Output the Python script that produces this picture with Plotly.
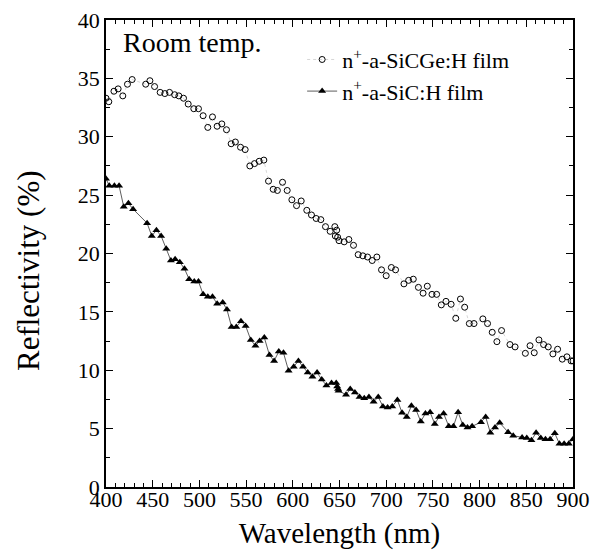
import plotly.graph_objects as go

# n+-a-SiCGe:H film (open circles)
wl_sicge = [400, 403, 408.5, 413, 418, 423, 428, 442.5, 447, 452, 458, 463, 468, 473.5, 478,
            483, 488, 494, 499, 504, 509, 514, 519, 524, 529, 534, 538.5, 544, 549, 554,
            559, 564, 569, 574, 579, 583.5, 589, 594, 599, 604, 609, 615, 620, 625, 630,
            635, 640, 645, 645.5, 647, 648, 649.5, 655, 660, 665, 670, 675, 680, 685, 690,
            695, 700, 705.5, 710, 719, 724, 729, 734.5, 739.5, 744, 749, 754, 759, 764,
            769.5, 774.5, 779.5, 784, 789, 794, 803.5, 808.5, 813.5, 818.5, 823.5, 832.5,
            838, 849, 854, 858.5, 863.5, 868.5, 873.5, 878.5, 883.5, 888.5, 893.5, 898, 900]
r_sicge = [33.3, 33.0, 33.9, 34.1, 33.5, 34.5, 34.9, 34.5, 34.8, 34.3, 33.8, 33.7, 33.8, 33.6, 33.5,
           33.3, 32.8, 32.4, 32.4, 31.8, 30.8, 31.7, 30.9, 31.1, 30.6, 29.4, 29.55, 29.1, 28.9, 27.5,
           27.7, 27.9, 28.0, 26.2, 25.5, 25.4, 26.1, 25.4, 24.6, 24.1, 24.5, 23.7, 23.3, 23.0, 22.9,
           22.3, 21.9, 22.3, 21.5, 22.0, 21.4, 21.1, 21.0, 21.2, 20.7, 19.9, 19.8, 19.7, 19.4, 19.7,
           18.6, 18.1, 18.8, 18.6, 17.4, 17.7, 17.8, 17.1, 16.6, 17.2, 16.5, 16.5, 15.6, 15.9,
           15.65, 14.45, 16.1, 15.4, 14.0, 14.0, 14.4, 14.0, 13.25, 12.45, 13.4, 12.2,
           12.0, 11.45, 12.1, 11.5, 12.6, 12.2, 12.0, 11.4, 11.8, 10.95, 11.15, 10.8, 10.8]

# n+-a-SiC:H film (filled triangles)
wl_sic = [400, 403.5, 409, 414, 419, 424, 429, 444, 449, 454, 459, 464.5, 469.5, 474, 479,
          484, 489, 494.5, 499, 504, 509, 514, 519, 525, 529.5, 534.5, 539.5, 544.5, 549.5,
          555, 560, 564.5, 569.5, 575, 580, 585, 590, 595.5, 601, 606, 611, 616, 621, 626,
          631, 636, 641.5, 646.5, 647.5, 648.5, 649, 657, 661.5, 666.5, 671.5, 676.5, 681.5,
          686.5, 691.5, 696.5, 701.5, 706.5, 712, 717, 722, 727, 732, 737, 742, 747, 752,
          756.5, 761.5, 767, 772, 777, 782, 787, 792, 801.5, 806.5, 811.5, 816.5, 821.5,
          830.5, 836, 845.5, 850.5, 855.5, 860.5, 865.5, 870.5, 875.5, 880.5, 885.5, 890.5,
          895.5, 900]
r_sic = [26.4, 25.8, 25.8, 25.8, 24.0, 24.3, 23.8, 22.6, 21.5, 22.0, 21.5, 20.4, 19.4, 19.5, 19.25,
         18.7, 17.8, 17.6, 17.6, 16.5, 16.3, 16.3, 15.7, 15.8, 15.2, 13.7, 13.7, 14.2, 13.8,
         12.6, 12.1, 12.5, 12.8, 11.3, 10.8, 11.6, 11.5, 9.95, 10.3, 10.8, 10.3, 9.8, 9.45, 9.8,
         9.2, 8.7, 8.9, 8.9, 8.6, 8.4, 8.25, 7.9, 8.4, 8.1, 7.7, 7.6, 7.7,
         7.3, 7.7, 6.9, 6.8, 6.9, 7.45, 6.35, 6.0, 6.95, 6.6, 5.6, 6.3, 6.4, 5.4,
         6.0, 6.3, 5.2, 5.2, 6.4, 5.3, 5.1, 5.2, 5.55, 6.0, 4.65, 5.1, 5.5,
         4.7, 4.4, 4.25, 4.2, 4.0, 4.65, 4.2, 4.1, 4.1, 4.6, 3.7, 3.7,
         3.7, 4.1]

x_ticks = [400, 450, 500, 550, 600, 650, 700, 750, 800, 850, 900]
y_ticks = [0, 5, 10, 15, 20, 25, 30, 35, 40]

FONT = "Liberation Serif, Times New Roman, serif"

fig = go.Figure()
fig.add_trace(go.Scatter(
    x=wl_sicge, y=r_sicge, mode="lines+markers",
    name="n<sup>+</sup>-a-SiCGe:H film",
    line=dict(color="#bbbbbb", width=0.6, dash="dot"),
    marker=dict(symbol="circle-open", size=6, color="black", line=dict(width=1, color="black")),
))
fig.add_trace(go.Scatter(
    x=wl_sic, y=r_sic, mode="lines+markers",
    name="n<sup>+</sup>-a-SiC:H film",
    line=dict(color="#333333", width=0.8),
    marker=dict(symbol="triangle-up", size=7, color="black"),
))

fig.add_annotation(x=0.032, y=0.99, xref="paper", yref="paper", xanchor="left", yanchor="top",
                   text="Room temp.", showarrow=False, font=dict(family=FONT, size=28, color="black"))
# y-axis title (placed as text, slightly below the plot centre like the reference)
fig.add_annotation(x=-0.167, y=0.4625, xref="paper", yref="paper", xanchor="center", yanchor="middle",
                   text="Reflectivity (%)", textangle=-90, showarrow=False,
                   font=dict(family=FONT, size=31, color="black"))

axis_common = dict(
    showline=True, linecolor="black", linewidth=1.5, mirror="allticks",
    ticks="inside", ticklen=7, tickwidth=1.2, tickcolor="black",
    showgrid=False, zeroline=False, automargin=False,
    tickfont=dict(family=FONT, size=22, color="black"),
)

fig.update_xaxes(
    range=[400, 900], tickvals=x_ticks, ticktext=[str(v) for v in x_ticks],
    minor=dict(dtick=10, ticks="inside", ticklen=4, tickcolor="black", tickwidth=1),
    ticklabelstandoff=-8,
    title=dict(text="Wavelength (nm)", font=dict(family=FONT, size=29, color="black"), standoff=13),
    **axis_common,
)
fig.update_yaxes(
    range=[0, 40], tickvals=y_ticks, ticktext=[str(v) for v in y_ticks],
    minor=dict(dtick=2.5, ticks="inside", ticklen=4, tickcolor="black", tickwidth=1),
    **axis_common,
)

fig.update_layout(
    width=602, height=550,
    margin=dict(l=106, r=29, t=20, b=63),
    paper_bgcolor="white", plot_bgcolor="white",
    font=dict(family=FONT, color="black"),
    showlegend=True,
    legend=dict(x=0.42, y=0.96, xanchor="left", yanchor="top",
                bgcolor="rgba(0,0,0,0)", font=dict(family=FONT, size=22, color="black"),
                tracegroupgap=0, itemwidth=30),
)

fig.write_html("out.html")
